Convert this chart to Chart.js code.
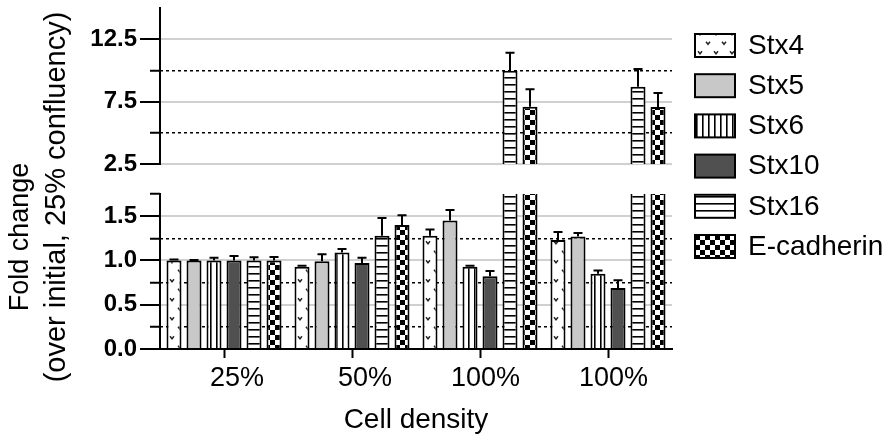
<!DOCTYPE html>
<html>
<head>
<meta charset="utf-8">
<script src="https://cdn.jsdelivr.net/npm/chart.js@4.4.0/dist/chart.umd.min.js"></script>
<style>
  body { margin: 0; background: #fff; }
  #wrap { position: relative; width: 887px; height: 435px; }
  canvas { position: absolute; left: 0; top: 0; }
</style>
</head>
<body>
<div id="wrap">
  <canvas id="bottom_chart" width="887" height="435"></canvas>
  <canvas id="top_chart" width="887" height="180"></canvas>
</div>
<script>
// DATA
const densities = ['25%', '50%', '100%', '100%'];
const stx4 = [1.00, 0.93, 1.28, 1.23];
const stx4_err = [0.01, 0.01, 0.07, 0.09];
const stx5 = [1.00, 0.99, 1.45, 1.27];
const stx5_err = [0.005, 0.08, 0.12, 0.04];
const stx6 = [1.00, 1.09, 0.93, 0.85];
const stx6_err = [0.03, 0.04, 0.01, 0.035];
const stx10 = [1.00, 0.97, 0.82, 0.69];
const stx10_err = [0.05, 0.06, 0.06, 0.085];
const stx16 = [1.00, 1.28, 9.98, 8.69];
const stx16_err = [0.035, 0.20, 1.44, 1.42];
const ecad = [1.00, 1.40, 7.08, 7.06];
const ecad_err = [0.04, 0.11, 1.40, 1.12];

// TICKS
const bottom_major = [0, 0.5, 1.0, 1.5];
const bottom_minor = [0.25, 0.75, 1.25, 1.75];
const top_major = [2.5, 7.5, 12.5];
const top_minor = [5, 10];

const x_title = 'Cell density';
const y_title = ['Fold change', '(over initial, 25% confluency)'];

Chart.defaults.font.family = "'Liberation Sans', Arial, sans-serif";
Chart.defaults.color = '#000';

// PATTERNS
function makePattern(w, h, draw) {
  const c = document.createElement('canvas');
  c.width = w;
  c.height = h;
  const g = c.getContext('2d');
  g.fillStyle = '#fff';
  g.fillRect(0, 0, w, h);
  draw(g);
  return g.createPattern(c, 'repeat');
}

const v_marks = makePattern(16, 19, g => {
  g.strokeStyle = '#222';
  g.lineWidth = 1.4;
  [[4, 5], [12, 14.5]].forEach(([x, y]) => {
    g.beginPath();
    g.moveTo(x - 2, y - 1.3);
    g.lineTo(x, y + 1.3);
    g.lineTo(x + 2, y - 1.3);
    g.stroke();
  });
});
const vertical_lines = makePattern(6, 6, g => {
  g.fillStyle = '#000';
  g.fillRect(0, 0, 1.6, 6);
});
const horizontal_lines = makePattern(7, 7, g => {
  g.fillStyle = '#000';
  g.fillRect(0, 0, 7, 1.6);
});
const checker = makePattern(10, 10, g => {
  g.fillStyle = '#000';
  g.fillRect(0, 0, 5, 5);
  g.fillRect(5, 5, 5, 5);
});

function makeDatasets() {
  const list = [
    ['Stx4', stx4, stx4_err, v_marks],
    ['Stx5', stx5, stx5_err, '#c8c8c8'],
    ['Stx6', stx6, stx6_err, vertical_lines],
    ['Stx10', stx10, stx10_err, '#505050'],
    ['Stx16', stx16, stx16_err, horizontal_lines],
    ['E-cadherin', ecad, ecad_err, checker],
  ];
  return list.map(([label, data, errors, fill]) => ({
    label: label,
    data: data,
    errors: errors,
    backgroundColor: fill,
    borderColor: '#000',
    borderWidth: 2,
    barPercentage: 0.75,
    categoryPercentage: 0.9375,
    clip: 0,
    yAxisID: 'y',
  }));
}

// AXES
function majorAxis(min, max, tick_list, hideBase) {
  return {
    type: 'linear',
    position: 'left',
    min: min,
    max: max,
    weight: 1,
    afterBuildTicks: s => { s.ticks = tick_list.map(v => ({ value: v })); },
    afterFit: s => { s.width = 160; s.paddingTop = 0; s.paddingBottom = 0; },
    ticks: {
      padding: 3,
      color: '#000',
      font: { size: 24, weight: 'bold' },
      callback: v => v.toFixed(1),
    },
    grid: {
      color: c => (hideBase && c.tick && c.tick.value === min) ? 'rgba(0,0,0,0)' : '#d0d0d0',
      lineWidth: 2,
      tickLength: 20,
      tickColor: '#000',
      tickWidth: 2,
    },
    border: { color: '#000', width: 2 },
  };
}

function minorAxis(min, max, tick_list) {
  return {
    type: 'linear',
    position: 'left',
    min: min,
    max: max,
    weight: 0,
    afterBuildTicks: s => { s.ticks = tick_list.map(v => ({ value: v })); },
    afterFit: s => { s.width = 0; s.paddingTop = 0; s.paddingBottom = 0; },
    ticks: { display: false },
    grid: {
      color: c => (c.tick && c.tick.value === max) ? 'rgba(0,0,0,0)' : '#000',
      lineWidth: 1.5,
      tickLength: 10,
      tickColor: '#000',
      tickWidth: 2,
    },
    border: { display: false, dash: [3, 3] },
  };
}

// ERROR BARS
const errorBarPlugin = {
  id: 'errorBars',
  afterDatasetsDraw(chart) {
    const { ctx, chartArea } = chart;
    ctx.save();
    ctx.beginPath();
    ctx.rect(chartArea.left, chartArea.top - 1, chartArea.right - chartArea.left, chartArea.bottom - chartArea.top + 1);
    ctx.clip();
    ctx.strokeStyle = '#000';
    ctx.lineWidth = 2;
    chart.data.datasets.forEach((ds, i) => {
      const meta = chart.getDatasetMeta(i);
      const yScale = chart.scales[meta.yAxisID];
      meta.data.forEach((bar, j) => {
        const top = yScale.getPixelForValue(ds.data[j] + ds.errors[j]);
        const half = bar.width * 0.3;
        ctx.beginPath();
        ctx.moveTo(bar.x, bar.y);
        ctx.lineTo(bar.x, top);
        ctx.moveTo(bar.x - half, top);
        ctx.lineTo(bar.x + half, top);
        ctx.stroke();
      });
    });
    ctx.restore();
  },
};

// Y TITLE + LEGEND
const sidePlugin = {
  id: 'sideTexts',
  afterDraw(chart) {
    const ctx = chart.ctx;
    ctx.save();
    ctx.fillStyle = '#000';
    ctx.textAlign = 'center';
    ctx.textBaseline = 'middle';
    // line 1 sits lower than line 2 in the original
    [[21, 237, 27], [57, 197, 29]].forEach(([x, y, size], i) => {
      ctx.save();
      ctx.font = size + "px 'Liberation Sans', Arial, sans-serif";
      ctx.translate(x, y);
      ctx.rotate(-Math.PI / 2);
      ctx.fillText(y_title[i], 0, 0);
      ctx.restore();
    });

    ctx.font = "28px 'Liberation Sans', Arial, sans-serif";
    ctx.textAlign = 'left';
    chart.data.datasets.forEach((ds, i) => {
      const y = 34 + i * 40.2;
      ctx.fillStyle = ds.backgroundColor;
      ctx.fillRect(695, y, 40, 23);
      ctx.strokeStyle = '#000';
      ctx.lineWidth = 2;
      ctx.strokeRect(695, y, 40, 23);
      ctx.fillStyle = '#000';
      ctx.fillText(ds.label, 748, y + 12);
    });
    ctx.restore();
  },
};

const base_options = {
  responsive: false,
  animation: false,
  plugins: { legend: { display: false }, tooltip: { enabled: false } },
};

// BOTTOM PANEL
new Chart(document.getElementById('bottom_chart'), {
  type: 'bar',
  data: { labels: densities, datasets: makeDatasets() },
  options: {
    ...base_options,
    layout: { padding: { top: 194, right: 215, bottom: 0, left: 0 } },
    scales: {
      x: {
        afterFit: s => { s.height = 86; s.paddingLeft = 0; s.paddingRight = 0; },
        grid: { drawOnChartArea: false, offset: false, tickLength: 9, tickColor: '#000', tickWidth: 2 },
        border: { color: '#000', width: 2 },
        ticks: { color: '#000', padding: 4, font: { size: 27 }, maxRotation: 0, autoSkip: false, align: 'end', labelOffset: 40 },
        title: { display: true, text: x_title, color: '#000', font: { size: 28, lineHeight: 1.05 }, padding: 0 },
      },
      y: majorAxis(0, 1.75, bottom_major, true),
      y_minor: minorAxis(0, 1.75, bottom_minor),
    },
  },
  plugins: [errorBarPlugin, sidePlugin],
});

// TOP PANEL
new Chart(document.getElementById('top_chart'), {
  type: 'bar',
  data: { labels: densities, datasets: makeDatasets() },
  options: {
    ...base_options,
    layout: { padding: { top: 8, right: 215, bottom: 16, left: 0 } },
    scales: {
      x: { display: false },
      y: majorAxis(2.5, 15, top_major, false),
      y_minor: minorAxis(2.5, 15, top_minor),
    },
  },
  plugins: [errorBarPlugin],
});
</script>
</body>
</html>
